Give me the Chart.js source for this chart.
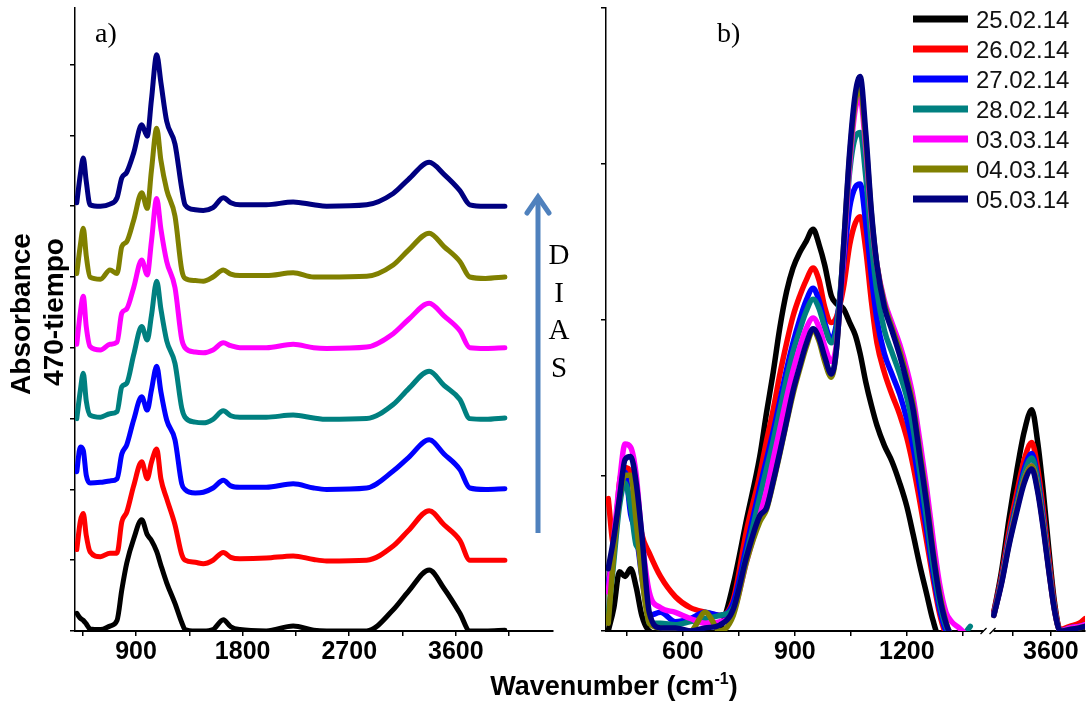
<!DOCTYPE html>
<html>
<head>
<meta charset="utf-8">
<script src="https://cdn.jsdelivr.net/npm/chart.js@4.4.1/dist/chart.umd.min.js"></script>
<style>
  body { margin: 0; background: #fff; }
  #page { position: relative; width: 1088px; height: 702px; overflow: hidden; background: #fff; }
  .wrap { position: absolute; top: 0; }
  #wrapA { left: 0; width: 560px; height: 702px; }
  #wrapB { left: 560px; width: 528px; height: 702px; }
  #overlay { position: absolute; left: 0; top: 0; pointer-events: none; }
</style>
</head>
<body>
<div id="page">
  <div class="wrap" id="wrapA"><canvas id="chartA" width="560" height="702"></canvas></div>
  <div class="wrap" id="wrapB"><canvas id="chartB" width="528" height="702"></canvas></div>
  <svg id="overlay" width="1088" height="702" xmlns="http://www.w3.org/2000/svg"></svg>
</div>
<script>
const seriesNames = ['25.02.14', '26.02.14', '27.02.14', '28.02.14', '03.03.14', '04.03.14', '05.03.14'];
const seriesColors = ['#000000', '#ff0000', '#0000ff', '#008080', '#ff00ff', '#808000', '#000080'];

// ---- panel a) : full spectra, stacked one above the other ----
const waveA = [400, 430, 455, 480, 512, 600, 680, 740, 780, 822, 880, 948, 995, 1030, 1075, 1110, 1159, 1229, 1286, 1314,
  1400, 1468, 1550, 1637, 1700, 1777, 2000, 2227, 2400, 2509, 2847, 3071, 3200, 3375, 3500, 3634, 3718, 3850, 4014];
const absA_2502 = [0.25, 0.18, 0.15, 0.10, 0.03, 0.02, 0.07, 0.15, 0.58, 0.96, 1.30, 1.57, 1.36, 1.28, 1.12, 0.93, 0.68, 0.39, 0.12, 0.02,
  0.0, 0.0, 0.02, 0.16, 0.06, 0.02, 0.0, 0.07, 0.01, 0.0, 0.0, 0.30, 0.56, 0.86, 0.60, 0.25, 0.0, 0.0, 0.01];
const absA_2602 = [0.15, 0.55, 0.66, 0.35, 0.12, 0.05, 0.10, 0.10, 0.54, 0.68, 1.05, 1.39, 1.15, 1.38, 1.57, 1.15, 0.87, 0.50, 0.08, 0.0,
  -0.03, -0.05, 0.0, 0.11, 0.04, 0.02, 0.03, 0.06, 0.01, -0.01, 0.0, 0.20, 0.42, 0.70, 0.50, 0.28, 0.0, 0.0, 0.0];
const absA_2702 = [0.25, 0.60, 0.55, 0.20, 0.09, 0.10, 0.12, 0.15, 0.50, 0.63, 0.98, 1.31, 1.12, 1.40, 1.74, 1.38, 0.98, 0.70, 0.08, 0.0,
  -0.05, -0.04, 0.02, 0.13, 0.05, 0.03, 0.03, 0.08, 0.02, 0.0, 0.02, 0.26, 0.45, 0.70, 0.50, 0.28, 0.02, 0.0, 0.01];
const absA_2802 = [0.0, 0.40, 0.64, 0.25, 0.05, 0.02, 0.07, 0.10, 0.45, 0.50, 0.90, 1.30, 1.11, 1.45, 1.94, 1.55, 1.10, 0.78, 0.15, 0.02,
  -0.05, -0.06, -0.01, 0.11, 0.04, 0.02, 0.02, 0.05, 0.01, -0.01, 0.0, 0.20, 0.42, 0.67, 0.47, 0.27, 0.0, -0.01, 0.01];
const absA_0303 = [0.05, 0.50, 0.73, 0.30, 0.02, -0.03, 0.05, 0.08, 0.49, 0.55, 0.85, 1.24, 1.03, 1.50, 2.11, 1.68, 1.22, 0.85, 0.12, 0.0,
  -0.06, -0.07, -0.03, 0.07, 0.03, 0.0, 0.0, 0.05, 0.0, -0.01, 0.01, 0.20, 0.40, 0.63, 0.45, 0.24, 0.0, -0.01, 0.0];
const absA_0403 = [0.05, 0.45, 0.69, 0.30, 0.0, -0.03, 0.10, 0.05, 0.43, 0.50, 0.80, 1.19, 0.97, 1.50, 2.10, 1.65, 1.23, 0.86, 0.10, -0.02,
  -0.05, -0.06, 0.0, 0.10, 0.04, 0.02, 0.02, 0.06, 0.0, 0.0, 0.01, 0.17, 0.38, 0.62, 0.43, 0.22, 0.0, -0.02, 0.0];
const absA_0503 = [0.05, 0.45, 0.68, 0.35, 0.02, 0.0, 0.03, 0.12, 0.40, 0.48, 0.75, 1.15, 0.99, 1.50, 2.14, 1.75, 1.20, 0.88, 0.25, 0.02,
  -0.05, -0.06, -0.02, 0.12, 0.05, 0.02, 0.02, 0.06, 0.02, 0.0, 0.02, 0.18, 0.38, 0.62, 0.45, 0.22, 0.02, 0.0, 0.0];
const stackOffsetA = [0, 1, 2, 3, 4, 5, 6];
const tickWaveA = [450, 900, 1350, 1800, 2250, 2700, 3150, 3600, 4050];
const labelWaveA = [900, 1800, 2700, 3600];

// ---- panel b) : overlaid spectra, broken wavenumber axis ----
const waveB_low = [400, 415, 430, 445, 460, 475, 490, 510, 540, 580, 620, 660, 700, 735, 771, 806, 824, 842, 860, 878, 895, 913,
  930, 949, 965, 980, 998, 1012, 1030, 1047, 1062, 1075, 1090, 1105, 1120, 1140, 1160, 1181, 1200, 1217, 1235, 1253, 1270,
  1288, 1305, 1320, 1340, 1370];
const waveB_high = [3300, 3340, 3380, 3420, 3460, 3500, 3530, 3560, 3590, 3620, 3650, 3700, 3750, 3780];

const absB_2502_low = [0.0, 0.15, 0.38, 0.35, 0.40, 0.28, 0.10, 0.0, -0.02, -0.02, -0.02, -0.02, 0.02, 0.30, 0.72, 1.12, 1.40, 1.66,
  1.95, 2.18, 2.33, 2.43, 2.50, 2.58, 2.48, 2.35, 2.15, 2.10, 2.07, 1.98, 1.90, 1.78, 1.60, 1.45, 1.32, 1.19, 1.09, 0.95, 0.80,
  0.62, 0.42, 0.24, 0.07, -0.05, -0.06, -0.06, -0.06, -0.06];
const absB_2602_low = [0.85, 0.55, 0.95, 1.05, 1.02, 0.85, 0.62, 0.50, 0.35, 0.22, 0.15, 0.12, 0.10, 0.20, 0.65, 1.00, 1.22, 1.42,
  1.65, 1.85, 2.02, 2.15, 2.25, 2.33, 2.25, 2.08, 1.98, 2.02, 2.20, 2.48, 2.62, 2.66, 2.45, 2.12, 1.85, 1.66, 1.52, 1.39, 1.24,
  1.06, 0.83, 0.58, 0.34, 0.11, -0.02, -0.05, -0.06, -0.06];
const absB_2702_low = [0.30, 0.55, 0.90, 1.02, 0.75, 0.62, 0.35, 0.10, 0.12, 0.06, 0.08, 0.12, 0.10, 0.18, 0.55, 0.92, 1.10, 1.28,
  1.48, 1.68, 1.85, 2.00, 2.12, 2.20, 2.12, 1.98, 1.87, 1.98, 2.35, 2.72, 2.85, 2.87, 2.62, 2.28, 2.00, 1.78, 1.65, 1.52, 1.36,
  1.18, 0.92, 0.65, 0.38, 0.14, 0.0, -0.04, -0.06, -0.06];
const absB_2802_low = [0.10, 0.45, 0.80, 0.95, 0.80, 0.55, 0.50, 0.05, 0.05, 0.04, 0.06, 0.08, 0.10, 0.15, 0.50, 0.86, 1.04, 1.22,
  1.42, 1.62, 1.79, 1.93, 2.05, 2.13, 2.07, 1.95, 1.85, 1.95, 2.42, 2.95, 3.17, 3.20, 2.92, 2.50, 2.18, 1.93, 1.79, 1.65, 1.50,
  1.30, 1.02, 0.72, 0.43, 0.18, 0.03, -0.02, -0.05, 0.03];
const absB_0303_low = [0.25, 0.60, 0.95, 1.20, 1.18, 1.00, 0.60, 0.25, 0.15, 0.12, 0.08, 0.05, 0.06, 0.12, 0.45, 0.74, 0.90, 1.10,
  1.30, 1.50, 1.67, 1.82, 1.94, 2.01, 1.95, 1.83, 1.73, 1.85, 2.40, 3.00, 3.35, 3.42, 3.10, 2.65, 2.35, 2.12, 1.98, 1.84, 1.68,
  1.50, 1.22, 0.92, 0.60, 0.30, 0.12, 0.06, 0.02, -0.05];
const absB_0403_low = [0.05, 0.50, 0.85, 1.00, 1.00, 0.70, 0.35, 0.05, 0.02, 0.0, 0.0, 0.12, 0.0, 0.10, 0.45, 0.70, 0.78, 0.95,
  1.14, 1.34, 1.52, 1.68, 1.82, 1.93, 1.86, 1.73, 1.63, 1.82, 2.45, 3.05, 3.40, 3.49, 3.15, 2.68, 2.35, 2.10, 1.95, 1.80, 1.63,
  1.45, 1.15, 0.85, 0.52, 0.24, 0.06, -0.03, -0.05, -0.05];
const absB_0503_low = [0.40, 0.60, 0.85, 1.10, 1.12, 0.95, 0.62, 0.12, 0.02, 0.02, 0.0, 0.02, 0.04, 0.14, 0.48, 0.74, 0.79, 0.96,
  1.15, 1.35, 1.54, 1.70, 1.84, 1.94, 1.88, 1.76, 1.65, 1.82, 2.45, 3.08, 3.45, 3.56, 3.20, 2.70, 2.35, 2.08, 1.93, 1.77, 1.60,
  1.42, 1.12, 0.82, 0.50, 0.22, 0.05, -0.03, -0.05, -0.05];

const absB_2502_high = [0.12, 0.38, 0.72, 1.02, 1.28, 1.42, 1.22, 0.90, 0.52, 0.18, 0.0, 0.0, 0.01, 0.02];
const absB_2602_high = [0.12, 0.35, 0.64, 0.88, 1.10, 1.21, 1.05, 0.78, 0.46, 0.16, 0.01, 0.03, 0.05, 0.08];
const absB_2702_high = [0.11, 0.33, 0.60, 0.83, 1.04, 1.14, 0.99, 0.73, 0.42, 0.14, 0.0, 0.02, 0.03, 0.04];
const absB_2802_high = [0.10, 0.32, 0.59, 0.81, 1.01, 1.11, 0.97, 0.71, 0.41, 0.14, 0.0, 0.02, 0.03, 0.04];
const absB_0303_high = [0.10, 0.31, 0.57, 0.78, 0.97, 1.06, 0.92, 0.68, 0.39, 0.13, 0.0, 0.02, 0.03, 0.04];
const absB_0403_high = [0.10, 0.31, 0.56, 0.78, 0.97, 1.06, 0.92, 0.68, 0.39, 0.13, 0.0, 0.01, 0.02, 0.03];
const absB_0503_high = [0.10, 0.30, 0.55, 0.76, 0.95, 1.04, 0.90, 0.66, 0.38, 0.13, 0.0, 0.01, 0.02, 0.03];

const tickWaveB = [450, 600, 750, 900, 1050, 1200, 1350, 3400, 3600];
const labelWaveB = [600, 900, 1200, 3600];

const seriesA = [absA_2502, absA_2602, absA_2702, absA_2802, absA_0303, absA_0403, absA_0503];
const seriesB_low = [absB_2502_low, absB_2602_low, absB_2702_low, absB_2802_low, absB_0303_low, absB_0403_low, absB_0503_low];
const seriesB_high = [absB_2502_high, absB_2602_high, absB_2702_high, absB_2802_high, absB_0303_high, absB_0403_high, absB_0503_high];

// broken axis for panel b: 400-1415 at full scale, then 3280-3780 squeezed
const BREAK_LO = 1415, BREAK_HI = 3280, BREAK_GAP = 8, RIGHT_SQUEEZE = 0.509;
function toAxisB(w) { return w <= BREAK_LO ? w : BREAK_LO + BREAK_GAP + (w - BREAK_HI) * RIGHT_SQUEEZE; }
function fromAxisB(u) { return u <= BREAK_LO + BREAK_GAP / 2 ? u : BREAK_HI + (u - BREAK_LO - BREAK_GAP) / RIGHT_SQUEEZE; }

Chart.defaults.font.family = '"Liberation Sans", Arial, sans-serif';
Chart.defaults.color = '#000';

const tickFont = { size: 25, weight: 'bold' };

function xAxis(min, max, ticksAt, labelFn) {
  return {
    type: 'linear', min: min, max: max,
    afterBuildTicks: s => { s.ticks = ticksAt.map(v => ({ value: v })); },
    afterFit: s => { s.height = 71; },
    border: { display: true, color: '#000', width: 2 },
    grid: { drawOnChartArea: false, drawTicks: true, tickLength: 5, color: '#000', lineWidth: 1.5 },
    ticks: { autoSkip: false, maxRotation: 0, padding: 1, font: tickFont, color: '#000', callback: labelFn }
  };
}
function yAxis(max, ticksAt) {
  return {
    type: 'linear', min: 0, max: max,
    afterBuildTicks: s => { s.ticks = ticksAt.map(v => ({ value: v })); },
    afterFit: s => { s.width = 0; },
    border: { display: true, color: '#000', width: 1.5 },
    grid: { drawOnChartArea: false, drawTicks: true, tickLength: 5, color: '#000', lineWidth: 1.5 },
    ticks: { display: false }
  };
}

const lineStyle = (i, w) => ({
  label: seriesNames[i],
  borderColor: seriesColors[i],
  borderWidth: w,
  pointRadius: 0,
  fill: false,
  cubicInterpolationMode: 'monotone',
  borderJoinStyle: 'round',
  borderCapStyle: 'round',
  spanGaps: false
});

// panel a
new Chart(document.getElementById('chartA'), {
  type: 'line',
  data: {
    datasets: seriesA.map((vals, i) => Object.assign(lineStyle(i, 5), {
      data: waveA.map((w, k) => ({ x: w, y: vals[k] + stackOffsetA[i] }))
    }))
  },
  options: {
    responsive: false,
    animation: false,
    layout: { padding: { left: 75, right: 7, top: 8, bottom: 0 } },
    plugins: { legend: { display: false }, tooltip: { enabled: false } },
    scales: {
      x: xAxis(385, 4420, tickWaveA, v => labelWaveA.includes(v) ? String(v) : ''),
      y: yAxis(8.8, [0, 1, 2, 3, 4, 5, 6, 7, 8])
    }
  }
});

// axis break marks on panel b
const breakMarks = {
  id: 'breakMarks',
  afterDraw(chart) {
    const c = chart.ctx;
    const xb = chart.scales.x.getPixelForValue(BREAK_LO + BREAK_GAP / 2);
    const yb = chart.chartArea.bottom;
    c.save();
    c.fillStyle = '#fff';
    c.fillRect(xb - 5, yb - 2, 10, 4);
    c.strokeStyle = '#000';
    c.lineWidth = 1.3;
    c.beginPath();
    c.moveTo(xb - 8, yb + 3); c.lineTo(xb - 2, yb - 3);
    c.moveTo(xb + 1, yb + 3); c.lineTo(xb + 7, yb - 3);
    c.stroke();
    c.restore();
  }
};

// panel b
new Chart(document.getElementById('chartB'), {
  type: 'line',
  data: {
    datasets: seriesB_low.map((vals, i) => Object.assign(lineStyle(i, 5.5), {
      order: 6 - i,
      data: waveB_low.map((w, k) => ({ x: toAxisB(w), y: vals[k] }))
        .concat([{ x: BREAK_LO + BREAK_GAP / 2, y: null }])
        .concat(waveB_high.map((w, k) => ({ x: toAxisB(w), y: seriesB_high[i][k] })))
    }))
  },
  options: {
    responsive: false,
    animation: false,
    layout: { padding: { left: 46, right: 3, top: 8, bottom: 0 } },
    plugins: { legend: { display: false }, tooltip: { enabled: false } },
    scales: {
      x: xAxis(394, toAxisB(3780), tickWaveB.map(toAxisB), v => {
        const w = Math.round(fromAxisB(v));
        return labelWaveB.includes(w) ? String(w) : '';
      }),
      y: yAxis(4, [0, 1, 2, 3, 4])
    }
  },
  plugins: [breakMarks]
});

// text, arrow and legend overlay
const svg = document.getElementById('overlay');
const NS = 'http://www.w3.org/2000/svg';
function el(tag, attrs, text) {
  const e = document.createElementNS(NS, tag);
  for (const k in attrs) e.setAttribute(k, attrs[k]);
  if (text !== undefined) e.textContent = text;
  svg.appendChild(e);
  return e;
}
const sans = '"Liberation Sans", Arial, sans-serif';
const serif = '"Liberation Serif", "Times New Roman", serif';

el('text', { x: 95, y: 42, 'font-family': serif, 'font-size': 28 }, 'a)');
el('text', { x: 717, y: 42, 'font-family': serif, 'font-size': 28 }, 'b)');

// time arrow
el('line', { x1: 538, y1: 533, x2: 538, y2: 200, stroke: '#4f81bd', 'stroke-width': 5 });
el('polyline', { points: '527,213 538,197 549,213', fill: 'none', stroke: '#4f81bd', 'stroke-width': 5, 'stroke-linejoin': 'miter', 'stroke-linecap': 'round' });
['D', 'I', 'A', 'S'].forEach((ch, k) => {
  el('text', { x: 559, y: 264 + k * 37.5, 'font-family': serif, 'font-size': 29, 'text-anchor': 'middle' }, ch);
});

// axis titles
el('text', { transform: 'translate(30,314) rotate(-90)', 'font-family': sans, 'font-size': 28, 'font-weight': 'bold', 'text-anchor': 'middle' }, 'Absorbance');
el('text', { transform: 'translate(63,312) rotate(-90)', 'font-family': sans, 'font-size': 28, 'font-weight': 'bold', 'text-anchor': 'middle' }, '470-tiempo');
const xt = el('text', { x: 614, y: 695, 'font-family': sans, 'font-size': 27, 'font-weight': 'bold', 'text-anchor': 'middle' });
xt.appendChild(document.createTextNode('Wavenumber (cm'));
const sup = document.createElementNS(NS, 'tspan');
sup.setAttribute('dy', -11); sup.setAttribute('font-size', 16); sup.textContent = '-1';
xt.appendChild(sup);
const close = document.createElementNS(NS, 'tspan');
close.setAttribute('dy', 11); close.textContent = ')';
xt.appendChild(close);

// legend
seriesNames.forEach((name, i) => {
  const y = 19 + i * 30;
  el('line', { x1: 913, x2: 968, y1: y, y2: y, stroke: seriesColors[i], 'stroke-width': 7 });
  el('text', { x: 976, y: y + 8.5, 'font-family': sans, 'font-size': 24, fill: '#111' }, name);
});
</script>
</body>
</html>
